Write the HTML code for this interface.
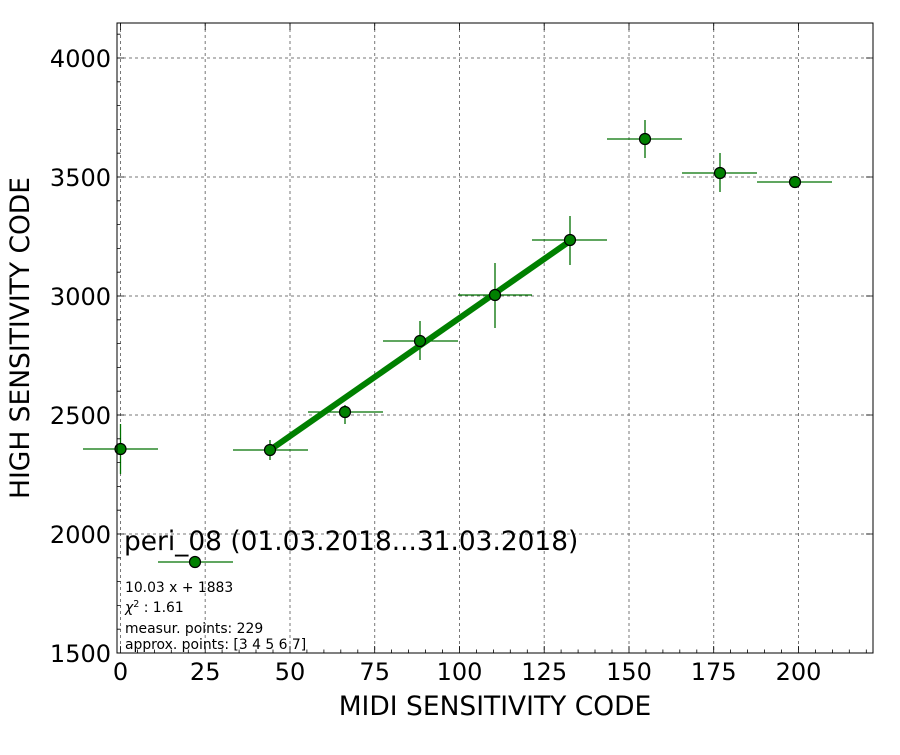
<!DOCTYPE html>
<html><head><style>body{margin:0;background:#fff}</style></head><body>
<svg width="900" height="750" xmlns="http://www.w3.org/2000/svg" font-family="DejaVu Sans, Liberation Sans, sans-serif">
<rect width="900" height="750" fill="#fff"/>
<g stroke="#777" stroke-width="1" stroke-dasharray="3,3">
<line x1="205.2" y1="23" x2="205.2" y2="653"/><line x1="290" y1="23" x2="290" y2="653"/><line x1="374.7" y1="23" x2="374.7" y2="653"/><line x1="459.5" y1="23" x2="459.5" y2="653"/><line x1="544.2" y1="23" x2="544.2" y2="653"/><line x1="629" y1="23" x2="629" y2="653"/><line x1="713.7" y1="23" x2="713.7" y2="653"/><line x1="798.5" y1="23" x2="798.5" y2="653"/><line x1="120.5" y1="23" x2="120.5" y2="653"/>
<line x1="117" y1="58" x2="873" y2="58"/><line x1="117" y1="177" x2="873" y2="177"/><line x1="117" y1="296" x2="873" y2="296"/><line x1="117" y1="415" x2="873" y2="415"/><line x1="117" y1="534" x2="873" y2="534"/>
</g>
<g stroke="#007000" stroke-width="1.3">
<line x1="120.5" y1="424" x2="120.5" y2="474"/><line x1="83" y1="449" x2="158" y2="449"/>
<line x1="158" y1="562" x2="233" y2="562"/>
<line x1="270" y1="440" x2="270" y2="460"/><line x1="233" y1="450" x2="308" y2="450"/>
<line x1="345" y1="405" x2="345" y2="424"/><line x1="308" y1="412" x2="383" y2="412"/>
<line x1="420" y1="321" x2="420" y2="360"/><line x1="383" y1="341" x2="458" y2="341"/>
<line x1="495" y1="263" x2="495" y2="328"/><line x1="458" y1="295" x2="532" y2="295"/>
<line x1="570" y1="216" x2="570" y2="265"/><line x1="532" y1="240" x2="607" y2="240"/>
<line x1="645" y1="120" x2="645" y2="158"/><line x1="607" y1="139" x2="682" y2="139"/>
<line x1="720" y1="153" x2="720" y2="192"/><line x1="682" y1="173" x2="757" y2="173"/>
<line x1="757" y1="182" x2="832" y2="182"/>
</g>
<line x1="270" y1="450" x2="570" y2="241" stroke="#008000" stroke-width="6"/>
<g fill="#008000" stroke="#000" stroke-width="1.2">
<circle cx="120.5" cy="449" r="5.5"/><circle cx="195" cy="562" r="5.5"/><circle cx="270" cy="450" r="5.5"/><circle cx="345" cy="412" r="5.5"/><circle cx="420" cy="341" r="5.5"/><circle cx="495" cy="295" r="5.5"/><circle cx="570" cy="240" r="5.5"/><circle cx="645" cy="139" r="5.5"/><circle cx="720" cy="173" r="5.5"/><circle cx="795" cy="182" r="5.5"/>
</g>
<rect x="117" y="23" width="756" height="630" fill="none" stroke="#000" stroke-width="1"/>
<g stroke="#000" stroke-width="0.8">
<path d="M120.5 653v-7M205.2 653v-7M290 653v-7M374.7 653v-7M459.5 653v-7M544.2 653v-7M629 653v-7M713.7 653v-7M798.5 653v-7M120.5 23v7M205.2 23v7M290 23v7M374.7 23v7M459.5 23v7M544.2 23v7M629 23v7M713.7 23v7M798.5 23v7"/>
<path d="M137.4 653v-3.5M154.4 653v-3.5M171.3 653v-3.5M188.3 653v-3.5M222.1 653v-3.5M239.1 653v-3.5M256 653v-3.5M273 653v-3.5M306.9 653v-3.5M323.9 653v-3.5M340.8 653v-3.5M357.8 653v-3.5M391.6 653v-3.5M408.6 653v-3.5M425.5 653v-3.5M442.5 653v-3.5M476.4 653v-3.5M493.4 653v-3.5M510.3 653v-3.5M527.3 653v-3.5M561.1 653v-3.5M578.1 653v-3.5M595 653v-3.5M612 653v-3.5M645.9 653v-3.5M662.9 653v-3.5M679.8 653v-3.5M696.8 653v-3.5M730.6 653v-3.5M747.6 653v-3.5M764.5 653v-3.5M781.5 653v-3.5M815.4 653v-3.5M832.4 653v-3.5M849.3 653v-3.5M866.3 653v-3.5"/>
<path d="M117 58h7M117 177h7M117 296h7M117 415h7M117 534h7M873 58h-7M873 177h-7M873 296h-7M873 415h-7M873 534h-7"/>
<path d="M117 34.2h3.5M117 81.8h3.5M117 105.6h3.5M117 129.4h3.5M117 153.2h3.5M117 200.8h3.5M117 224.6h3.5M117 248.4h3.5M117 272.2h3.5M117 319.8h3.5M117 343.6h3.5M117 367.4h3.5M117 391.2h3.5M117 438.8h3.5M117 462.6h3.5M117 486.4h3.5M117 510.2h3.5M117 557.8h3.5M117 581.6h3.5M117 605.4h3.5M117 629.2h3.5"/>
</g>
<g font-size="24" fill="#000" text-anchor="middle">
<text x="120.5" y="680">0</text><text x="205.2" y="680">25</text><text x="290" y="680">50</text><text x="374.7" y="680">75</text><text x="459.5" y="680">100</text><text x="544.2" y="680">125</text><text x="629" y="680">150</text><text x="713.7" y="680">175</text><text x="798.5" y="680">200</text>
</g>
<g font-size="24" fill="#000" text-anchor="end">
<text x="111" y="67">4000</text><text x="111" y="186">3500</text><text x="111" y="305">3000</text><text x="111" y="424">2500</text><text x="111" y="543">2000</text><text x="111" y="662">1500</text>
</g>
<text x="495" y="715" font-size="26.5" text-anchor="middle">MIDI SENSITIVITY CODE</text>
<text transform="translate(29,338) rotate(-90)" font-size="26.5" text-anchor="middle">HIGH SENSITIVITY CODE</text>
<text x="124" y="550" font-size="26.4">peri_08 (01.03.2018...31.03.2018)</text>
<g font-size="13.9">
<text x="125" y="592">10.03 x + 1883</text>
<text x="125" y="612"><tspan font-style="italic">χ</tspan><tspan dy="-5" font-size="9.5">2</tspan><tspan dy="5"> : 1.61</tspan></text>
<text x="125" y="633">measur. points: 229</text>
<text x="125" y="649">approx. points: [3 4 5 6 7]</text>
</g>
</svg>
</body></html>
